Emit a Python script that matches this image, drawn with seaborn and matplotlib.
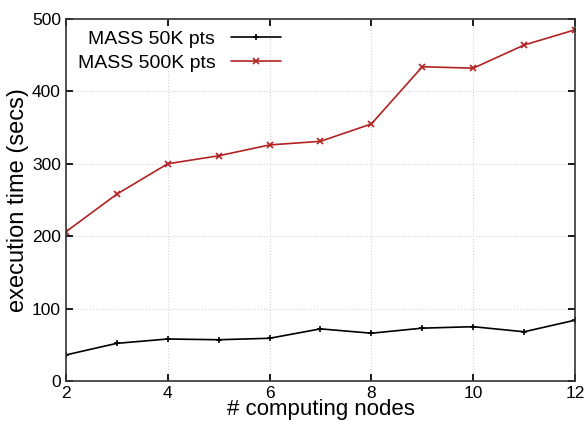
import matplotlib
matplotlib.use("Agg")
import matplotlib.pyplot as plt
import seaborn as sns
import pandas as pd

nodes = [2, 3, 4, 5, 6, 7, 8, 9, 10, 11, 12]
time_50k = [36, 52, 58, 57, 59, 72, 66, 73, 75, 68, 84]
time_500k = [206, 258, 300, 311, 326, 331, 355, 434, 432, 464, 485]
series = ["MASS 50K pts", "MASS 500K pts"]

df = pd.DataFrame({
    "nodes": nodes * 2,
    "time": time_50k + time_500k,
    "series": [series[0]] * len(nodes) + [series[1]] * len(nodes),
})

sns.set_theme(style="ticks", rc={"text.color": "black", "axes.labelcolor": "black",
                                 "xtick.color": "black", "ytick.color": "black"})
plt.rcParams["font.family"] = ["Liberation Sans", "DejaVu Sans"]

fig = plt.figure(figsize=(5.88, 4.21), dpi=100)
ax = fig.add_axes([0.112, 0.095, 0.866, 0.86])

sns.lineplot(data=df, x="nodes", y="time", hue="series", style="series",
             markers=["+", "x"], dashes=False, palette=["black", "#b22222"],
             markersize=5, markeredgewidth=1.2, linewidth=1.2, ax=ax)

# line-type markers need the edge colour to show
for line in ax.lines:
    line.set_markeredgecolor(line.get_color())

ax.set_xlim(2, 12)
ax.set_ylim(0, 500)
ax.set_xticks([2, 4, 6, 8, 10, 12])
ax.set_yticks([0, 100, 200, 300, 400, 500])
ax.grid(True, linestyle=":", color="#d5d5d5", linewidth=0.8)
ax.tick_params(direction="in", top=True, right=True, labelsize=12.5, length=5)
for sp in ax.spines.values():
    sp.set_color("#333333")
    sp.set_linewidth(1.2)

ax.set_xlabel("# computing nodes", fontsize=16, labelpad=-1)
ax.set_ylabel("execution time (secs)", fontsize=17, labelpad=2)

leg = ax.legend(loc="upper left", frameon=False, markerfirst=False, fontsize=14,
                handlelength=2.6, borderaxespad=0.2, labelspacing=0.3)
for h in leg.legend_handles:
    h.set_markeredgecolor(h.get_color())

fig.savefig("out.png", dpi=100)
